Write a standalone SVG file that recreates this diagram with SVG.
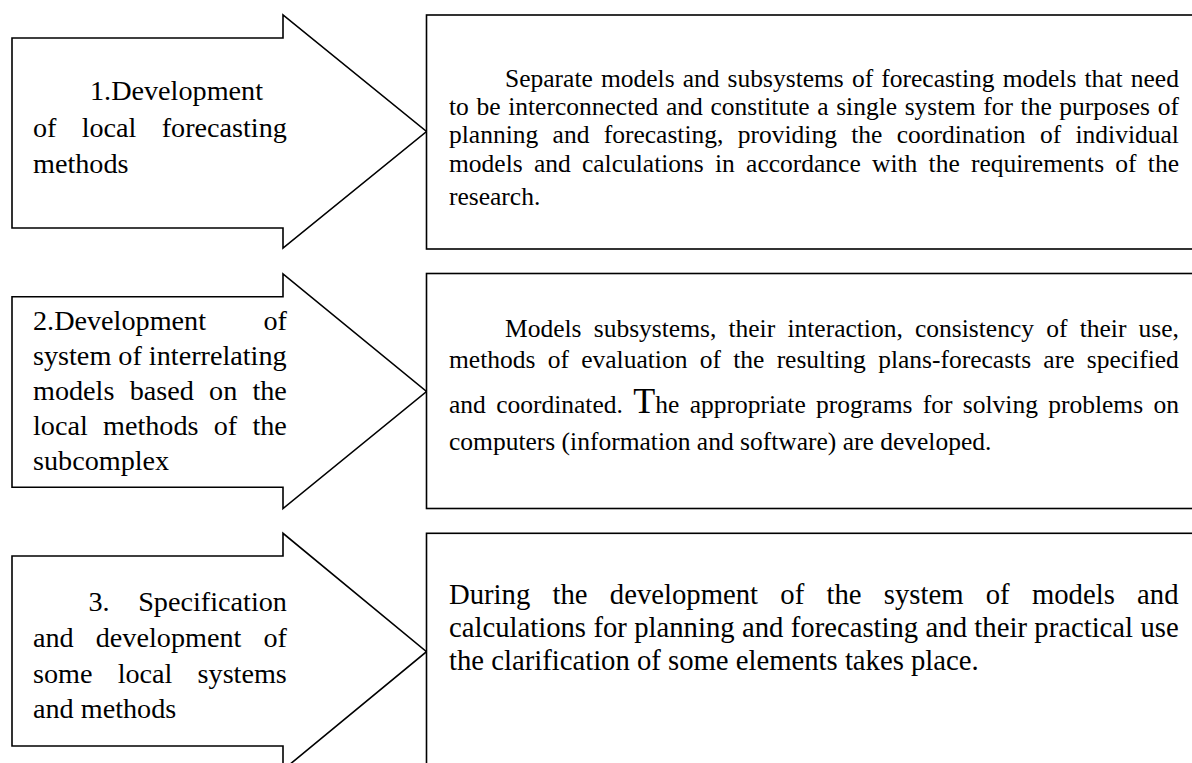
<svg xmlns="http://www.w3.org/2000/svg" width="1192" height="763" viewBox="0 0 1192 763">
  <style>
    .shape { fill: #ffffff; stroke: #000000; stroke-width: 1.6; stroke-linejoin: miter; }
    text { font-family: "Liberation Serif", "Times New Roman", serif; fill: #000000; }
    .lbl { font-size: 28.2px; }
    .b { font-size: 25.5px; }
    .c { font-size: 28.7px; }
  </style>
  <rect width="1192" height="763" fill="#ffffff"/>

  <!-- Step 1 -->
  <g id="step1">
    <path class="shape" d="M12,38 H283 V15 L426.5,131.5 L283,248 V228 H12 Z"/>
    <text class="lbl" x="90" y="100">1.Development</text>
    <text class="lbl" x="33" y="137" word-spacing="18.15">of local forecasting</text>
    <text class="lbl" x="33" y="173">methods</text>
  </g>
  <g id="desc1">
    <rect class="shape" x="426.5" y="15" width="780" height="234"/>
    <text class="b" x="505" y="87" word-spacing="1.74">Separate models and subsystems of forecasting models that need</text>
    <text class="b" x="449" y="115" word-spacing="1.27">to be interconnected and constitute a single system for the purposes of</text>
    <text class="b" x="449" y="143" word-spacing="7.96">planning and forecasting, providing the coordination of individual</text>
    <text class="b" x="449" y="172" word-spacing="4.87">models and calculations in accordance with the requirements of the</text>
    <text class="b" x="449" y="205">research.</text>
  </g>

  <!-- Step 2 -->
  <g id="step2">
    <path class="shape" d="M12,296.7 H283 V274 L426.5,391.5 L283,508.5 V487.3 H12 Z"/>
    <text class="lbl" x="33" y="330" word-spacing="50.4">2.Development of</text>
    <text class="lbl" x="33" y="365">system of interrelating</text>
    <text class="lbl" x="33" y="400" word-spacing="8.17">models based on the</text>
    <text class="lbl" x="33" y="435" word-spacing="8.17">local methods of the</text>
    <text class="lbl" x="33" y="470">subcomplex</text>
  </g>
  <g id="desc2">
    <rect class="shape" x="426.5" y="273.5" width="780" height="235"/>
    <text class="b" x="505" y="337" word-spacing="5.83">Models subsystems, their interaction, consistency of their use,</text>
    <text class="b" x="449" y="368" word-spacing="5.9">methods of evaluation of the resulting plans-forecasts are specified</text>
    <text class="b" x="449" y="413" word-spacing="3.96">and coordinated. <tspan font-size="36px">T</tspan>he appropriate programs for solving problems on</text>
    <text class="b" x="449" y="450">computers (information and software) are developed.</text>
  </g>

  <!-- Step 3 -->
  <g id="step3">
    <path class="shape" d="M12,556 H283 V533.3 L426.5,651.7 L283,770 V746 H12 Z"/>
    <text class="lbl" x="88.5" y="611" word-spacing="21.5">3. Specification</text>
    <text class="lbl" x="33" y="647" word-spacing="15">and development of</text>
    <text class="lbl" x="33" y="683" word-spacing="18.1">some local systems</text>
    <text class="lbl" x="33" y="718">and methods</text>
  </g>
  <g id="desc3">
    <rect class="shape" x="426.5" y="533.3" width="780" height="260"/>
    <text class="c" x="449" y="604" word-spacing="15.1">During the development of the system of models and</text>
    <text class="c" x="449" y="637" word-spacing="0.2">calculations for planning and forecasting and their practical use</text>
    <text class="c" x="449" y="670">the clarification of some elements takes place.</text>
  </g>

  <g id="connectors"/>
</svg>
